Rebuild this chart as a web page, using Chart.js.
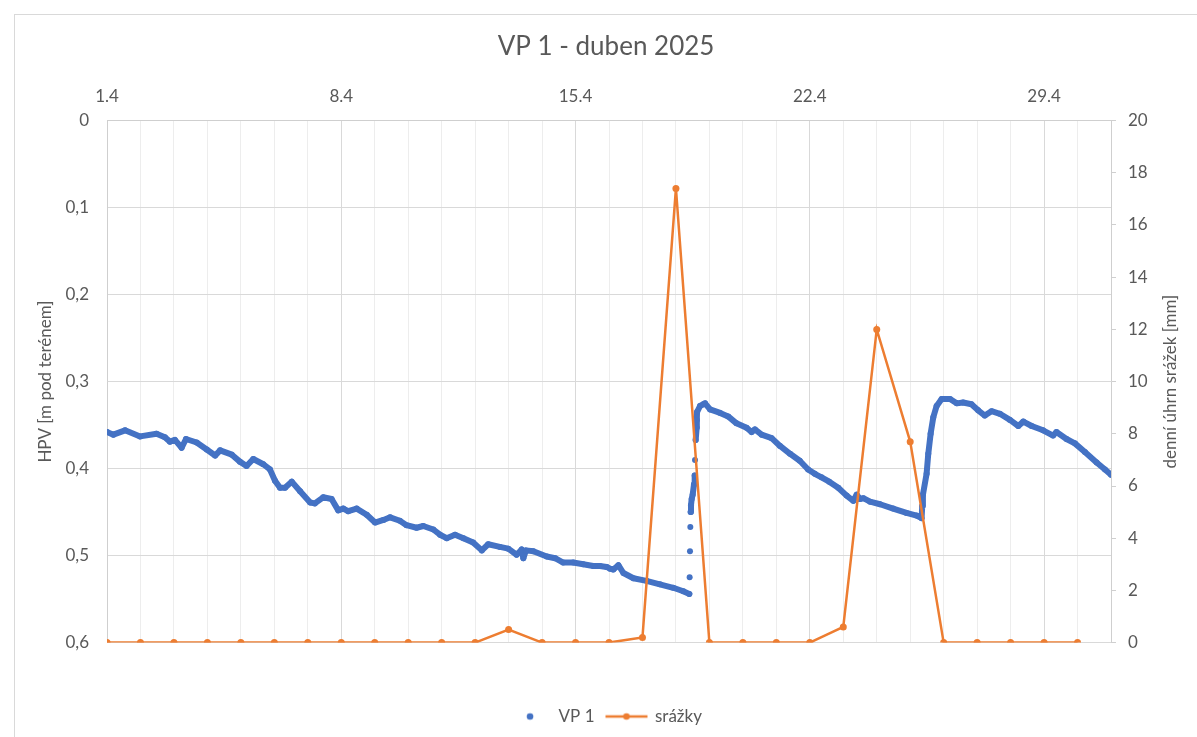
<!DOCTYPE html>
<html lang="cs">
<head>
<meta charset="utf-8">
<title>VP 1 - duben 2025</title>
<script src="https://cdn.jsdelivr.net/npm/chart.js@4.4.1/dist/chart.umd.min.js"></script>
<style>
  html, body { margin: 0; padding: 0; background: #fff; overflow: hidden; }
  #frame { position: absolute; left: 14px; top: 14px; width: 1200px; height: 740px; border: 1px solid #d9d9d9; }
  #wrap { position: absolute; left: 0; top: 0; width: 1182px; height: 722px; }
</style>
</head>
<body>
<div id="frame"><div id="wrap"><canvas id="hpvChart"></canvas></div></div>
<script>
// top axis (days of April)
var xTickDays = [1, 8, 15, 22, 29];
var xTickLabels = ['1.4', '8.4', '15.4', '22.4', '29.4'];

// VP 1 - groundwater level [m below surface], time in days of April
var vpDays = [
  1.00, 1.19, 1.54, 1.99, 2.48, 2.73, 2.88, 3.03, 3.23, 3.36, 3.68, 3.98, 4.23, 4.38, 4.73, 4.97,
  5.17, 5.37, 5.67, 5.87, 6.02, 6.17, 6.32, 6.52, 6.77, 7.07, 7.21, 7.46, 7.71, 7.91, 8.06, 8.21,
  8.46, 8.76, 9.01, 9.26, 9.46, 9.75, 9.95, 10.25, 10.45, 10.75, 10.95, 11.15, 11.40, 11.65, 11.94,
  12.20, 12.39, 12.74, 12.99, 13.24, 13.39, 13.44, 13.52, 13.74, 14.14, 14.39, 14.63, 14.93, 15.23,
  15.53, 15.73, 15.93, 16.03, 16.13, 16.28, 16.43, 16.73, 17.12, 17.52, 17.92, 18.22, 18.40,
  18.41, 18.42, 18.43, 18.44, 18.45, 18.47, 18.50, 18.54, 18.56, 18.57, 18.59, 18.62, 18.625, 18.63,
  18.72, 18.82, 18.87, 19.02, 19.32, 19.56, 19.81, 20.11, 20.26, 20.36, 20.56, 20.86, 21.11, 21.41,
  21.70, 21.95, 22.15, 22.35, 22.58, 22.85, 23.10, 23.30, 23.40, 23.50, 23.60, 23.80, 24.10, 24.49,
  24.89, 25.19, 25.34, 25.36, 25.38, 25.49, 25.54, 25.61, 25.69, 25.79, 25.94, 26.19, 26.39, 26.58,
  26.83, 27.03, 27.23, 27.43, 27.68, 27.98, 28.23, 28.38, 28.63, 28.97, 29.27, 29.37, 29.67, 29.92,
  30.22, 30.57, 30.82, 31.00
];
var vpLevel = [
  0.358, 0.361, 0.356, 0.363, 0.360, 0.364, 0.369, 0.367, 0.376, 0.366, 0.370, 0.378, 0.385, 0.379, 0.384, 0.392,
  0.397, 0.389, 0.395, 0.401, 0.414, 0.422, 0.422, 0.415, 0.426, 0.439, 0.440, 0.433, 0.435, 0.448, 0.446, 0.449,
  0.446, 0.453, 0.462, 0.459, 0.456, 0.460, 0.465, 0.468, 0.466, 0.470, 0.476, 0.480, 0.476, 0.480, 0.485,
  0.494, 0.487, 0.490, 0.492, 0.499, 0.493, 0.503, 0.494, 0.495, 0.501, 0.503, 0.508, 0.508, 0.510,
  0.512, 0.512, 0.513, 0.515, 0.516, 0.511, 0.520, 0.526, 0.529, 0.533, 0.537, 0.541, 0.544,
  0.525, 0.495, 0.467, 0.450, 0.442, 0.435, 0.430, 0.418, 0.408, 0.390, 0.367, 0.353, 0.344, 0.335,
  0.328, 0.326, 0.325, 0.332, 0.336, 0.340, 0.348, 0.353, 0.358, 0.355, 0.361, 0.365, 0.374, 0.383,
  0.391, 0.401, 0.406, 0.410, 0.415, 0.422, 0.431, 0.437, 0.430, 0.435, 0.434, 0.438, 0.441, 0.446,
  0.451, 0.454, 0.457, 0.443, 0.430, 0.406, 0.383, 0.360, 0.341, 0.328, 0.320, 0.320, 0.325, 0.324,
  0.326, 0.333, 0.339, 0.334, 0.337, 0.344, 0.351, 0.346, 0.351, 0.356, 0.362, 0.358, 0.366, 0.371,
  0.381, 0.393, 0.401, 0.407
];

// daily precipitation [mm]
var rainDays = [1, 2, 3, 4, 5, 6, 7, 8, 9, 10, 11, 12, 13, 14, 15, 16, 17, 18, 19, 20, 21, 22, 23, 24, 25, 26, 27, 28, 29, 30];
var rainMm = [0, 0, 0, 0, 0, 0, 0, 0, 0, 0, 0, 0, 0.5, 0, 0, 0, 0.2, 17.4, 0, 0, 0, 0, 0.6, 12.0, 7.7, 0, 0, 0, 0, 0];

var BLUE = '#4472C4';
var ORANGE = '#ED7D31';
var TEXT = '#595959';
var AXIS = '#cfcfcf';
var FONT = 'Lato, "Open Sans", sans-serif';

Chart.defaults.font.family = FONT;
Chart.defaults.font.size = 17;
Chart.defaults.color = TEXT;

function legendIcon(withLine, color) {
  var c = document.createElement('canvas');
  c.width = 44;
  c.height = 10;
  var g = c.getContext('2d');
  if (withLine) {
    g.strokeStyle = color;
    g.lineWidth = 2.5;
    g.beginPath();
    g.moveTo(1, 5);
    g.lineTo(43, 5);
    g.stroke();
  }
  g.fillStyle = color;
  g.beginPath();
  g.arc(22, 5, 3.3, 0, Math.PI * 2);
  g.fill();
  return c;
}
var dotIcon = legendIcon(false, BLUE);
var lineIcon = legendIcon(true, ORANGE);

// right axis title reads bottom-to-top like the left one
var rightTitle = {
  id: 'rightTitle',
  afterDraw: function (chart) {
    var area = chart.chartArea;
    var c = chart.ctx;
    c.save();
    c.translate(1156, (area.top + area.bottom) / 2);
    c.rotate(-Math.PI / 2);
    c.font = '17px ' + FONT;
    c.fillStyle = TEXT;
    c.textAlign = 'center';
    c.textBaseline = 'middle';
    c.fillText('denní úhrn srážek [mm]', 0, 0);
    c.restore();
  }
};

var vpPoints = vpDays.map(function (d, i) { return { x: d, y: vpLevel[i] }; });
var rainPoints = rainDays.map(function (d, i) { return { x: d, y: rainMm[i] }; });

var ctx = document.getElementById('hpvChart').getContext('2d');
new Chart(ctx, {
  type: 'line',
  data: {
    datasets: [{
      label: 'VP 1',
      data: vpPoints,
      yAxisID: 'y',
      borderColor: BLUE,
      backgroundColor: BLUE,
      borderWidth: 6,
      borderCapStyle: 'round',
      borderJoinStyle: 'round',
      pointRadius: 3,
      pointHoverRadius: 3,
      pointBorderWidth: 0,
      tension: 0,
      order: 1,
      segment: {
        // the fast rise after the storm shows up as loose dots
        borderColor: function (s) {
          var dv = Math.abs(s.p1.parsed.y - s.p0.parsed.y);
          var dt = s.p1.parsed.x - s.p0.parsed.x;
          return (dv > 0.012 && dv / dt > 0.8) ? 'rgba(0,0,0,0)' : undefined;
        }
      }
    }, {
      label: 'srážky',
      data: rainPoints,
      yAxisID: 'y2',
      borderColor: ORANGE,
      backgroundColor: ORANGE,
      borderWidth: 2.5,
      pointRadius: 3.5,
      pointHoverRadius: 3.5,
      pointBorderWidth: 0,
      tension: 0,
      order: 0
    }]
  },
  options: {
    responsive: true,
    maintainAspectRatio: false,
    animation: false,
    layout: { padding: { top: 0, left: 0, right: 0, bottom: 2 } },
    plugins: {
      title: {
        display: true,
        text: 'VP 1 - duben 2025',
        color: TEXT,
        font: { size: 26, weight: 'normal' },
        padding: { top: 16, bottom: 0 }
      },
      legend: {
        position: 'bottom',
        title: { display: true, text: '', padding: { top: 33, bottom: 0 } },
        labels: {
          usePointStyle: true,
          pointStyleWidth: 40,
          boxHeight: 10,
          padding: 12,
          color: TEXT,
          font: { size: 17 },
          generateLabels: function (chart) {
            var items = Chart.defaults.plugins.legend.labels.generateLabels(chart);
            items.sort(function (a, b) { return a.datasetIndex - b.datasetIndex; });
            items.forEach(function (it) {
              it.pointStyle = it.datasetIndex === 0 ? dotIcon : lineIcon;
            });
            return items;
          }
        }
      },
      tooltip: { enabled: false }
    },
    scales: {
      x: {
        type: 'linear',
        position: 'top',
        min: 1,
        max: 31,
        afterFit: function (s) { s.height = 58.4; },
        ticks: {
          stepSize: 1,
          autoSkip: false,
          maxRotation: 0,
          padding: 14,
          callback: function (v) {
            var i = xTickDays.indexOf(v);
            return i < 0 ? '' : xTickLabels[i];
          }
        },
        grid: {
          drawTicks: false,
          color: function (c) {
            return (c.tick && xTickDays.indexOf(c.tick.value) >= 0) ? '#d9d9d9' : '#ededed';
          }
        },
        border: { color: AXIS }
      },
      y: {
        position: 'left',
        reverse: true,
        min: 0,
        max: 0.6,
        afterFit: function (s) { s.width = 92; },
        ticks: {
          stepSize: 0.1,
          padding: 18,
          callback: function (v) {
            var r = Math.round(v * 10) / 10;
            return r === 0 ? '0' : r.toFixed(1).replace('.', ',');
          }
        },
        grid: { drawTicks: false, color: '#d9d9d9' },
        border: { color: AXIS },
        title: {
          display: true,
          text: 'HPV [m pod terénem]',
          color: TEXT,
          font: { size: 17 },
          padding: { top: 20, bottom: 0 }
        }
      },
      y2: {
        position: 'right',
        min: 0,
        max: 20,
        afterFit: function (s) { s.width = 86; },
        ticks: { stepSize: 2, padding: 12 },
        grid: { drawOnChartArea: false, tickLength: 5, tickColor: AXIS },
        border: { color: AXIS }
      }
    }
  },
  plugins: [rightTitle]
});
</script>
</body>
</html>
